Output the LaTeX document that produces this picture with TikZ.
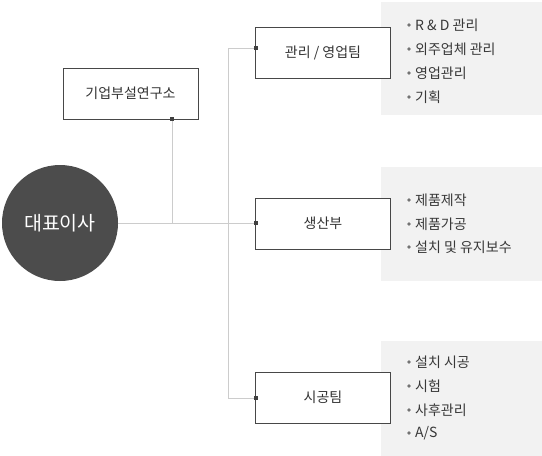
\documentclass[tikz,border=0pt]{standalone}
\usepackage{fontspec}
\setmainfont{Noto Sans CJK KR}
\begin{document}
\begin{tikzpicture}[x=1pt,y=-1pt,
  orgbox/.style={draw=black!72,line width=0.9pt,fill=white,minimum width=135pt,minimum height=51pt,inner sep=0pt,font=\fontsize{14}{16}\selectfont,text=black!80},
  ceobox/.style={circle,fill=black!70,minimum size=116pt,inner sep=0pt,text=white,font=\fontsize{19.5}{22}\selectfont},
  link/.style={draw=black!20,line width=0.9pt},
  grayarea/.style={fill=black!5,draw=none},
  item/.style={anchor=west,inner sep=0pt,font=\fontsize{14}{16}\selectfont,text=black!78},
  bul/.style={circle,fill=black!55,inner sep=0pt,minimum size=3.6pt},
  jdot/.style={fill=black!75,inner sep=0pt,minimum size=3.5pt}]
\useasboundingbox (0,0) rectangle (542,456);
% gray areas
\fill[grayarea] (381,2) rectangle (542,115);
\fill[grayarea] (381,167) rectangle (542,281);
\fill[grayarea] (381,341) rectangle (542,456);
% nodes
\node[ceobox] (ceo) at (60,223) {대표이사};
\node[orgbox] (lab) at (130.5,93.5) {기업부설연구소};
\node[orgbox] (mgmt) at (323,53) {관리 / 영업팀};
\node[orgbox] (prod) at (323,223.5) {생산부};
\node[orgbox] (cons) at (323,397.5) {시공팀};
\coordinate (labdot) at (172,119);
\coordinate (mgmtin) at (256,48);
\coordinate (prodin) at (256,223);
\coordinate (consin) at (256,398);
\coordinate (bus) at (228,48);
% connectors
\draw[link] (ceo.east |- prodin) -- (prodin);
\draw[link] (labdot) -- (labdot |- prodin);
\draw[link] (mgmtin) -- (bus) |- (consin);
\node[jdot] (d1) at (labdot) {};
\node[jdot] (d2) at (mgmtin) {};
\node[jdot] (d3) at (prodin) {};
\node[jdot] (d4) at (consin) {};
% lists
\foreach \yy/\tt/\nm in {25/{R \& D 관리}/a1,49/{외주업체 관리}/a2,73/{영업관리}/a3,97/{기획}/a4,
  200/{제품제작}/b1,224/{제품가공}/b2,247/{설치 및 유지보수}/b3,
  362/{설치 시공}/c1,386/{시험}/c2,410/{사후관리}/c3,433/{A/S}/c4}{
  \node[bul] (bul\nm) at (409,\yy) {};
  \node[item] (it\nm) at (415,\yy) {\tt};
}
\end{tikzpicture}
\end{document}
